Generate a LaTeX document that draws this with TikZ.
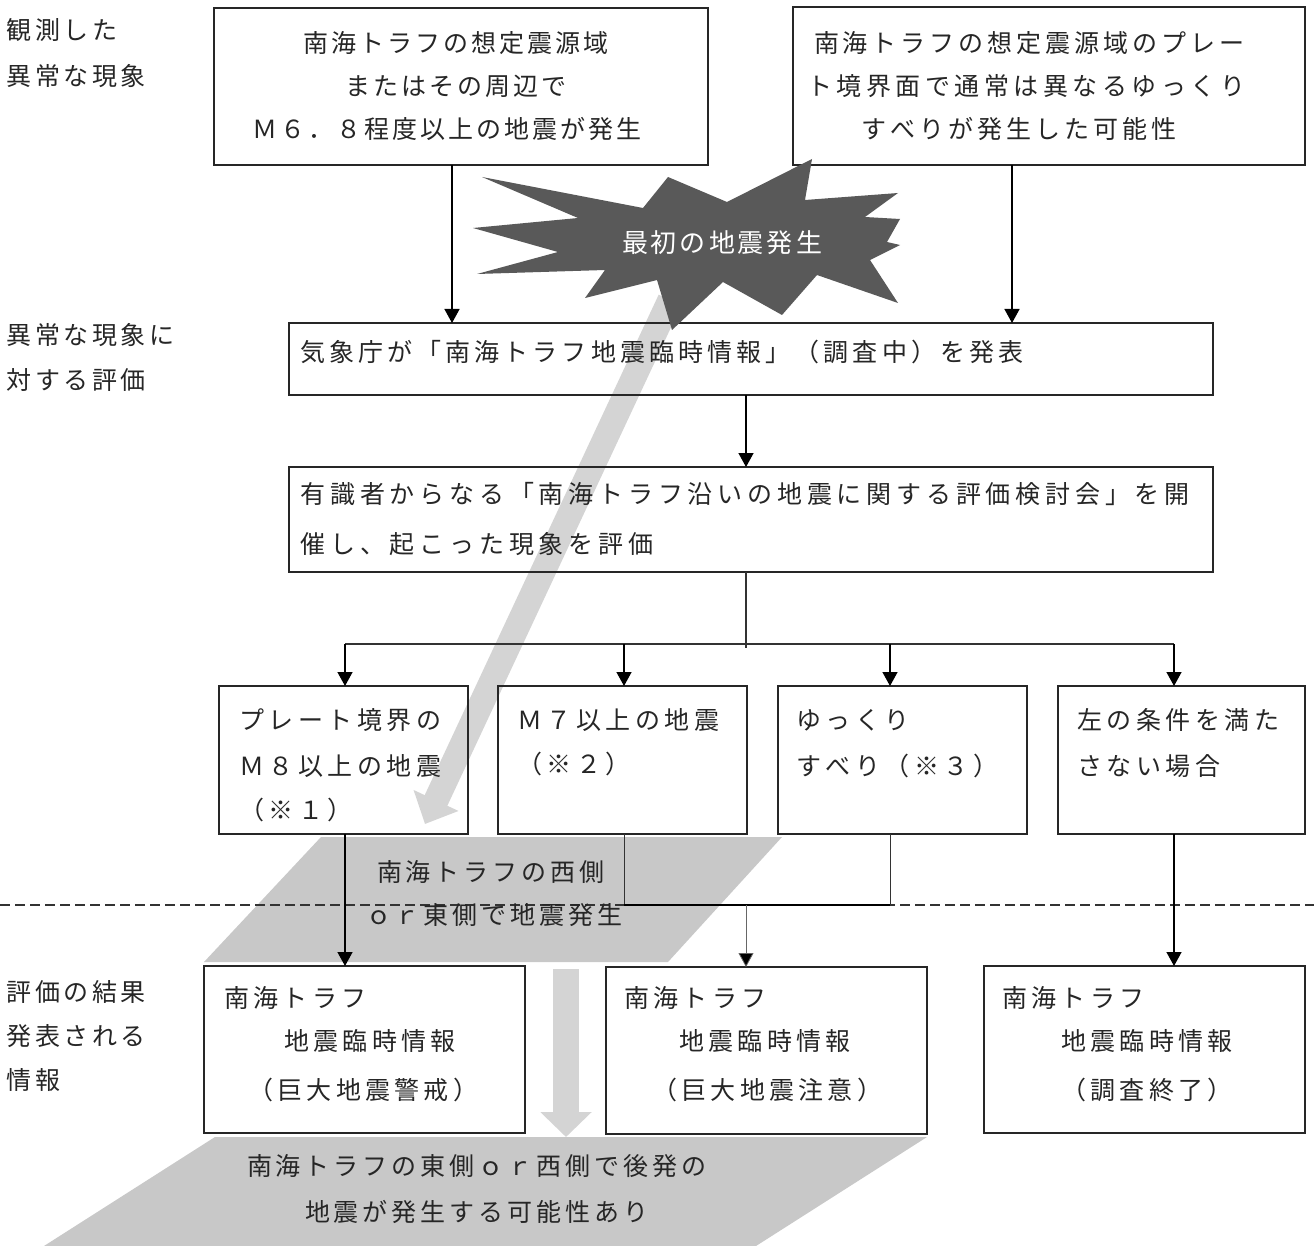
\documentclass[tikz,border=0pt]{standalone}
\usepackage{fontspec}
\setmainfont{Noto Sans CJK JP}
\usetikzlibrary{arrows.meta,calc}
\ExplSyntaxOn
\NewDocumentCommand\mono{mm}{\tl_map_inline:nn{#2}{\makebox[#1][c]{##1}}}
\ExplSyntaxOff
\definecolor{burstgray}{HTML}{595959}
\definecolor{arrowgray}{HTML}{D4D4D4}
\definecolor{paragray}{HTML}{C8C8C8}
\definecolor{linegray}{HTML}{333333}
\tikzset{
  bx/.style={draw=black!85, line width=1.3pt, inner sep=0pt, outer sep=0pt, anchor=north west},
  tx/.style={inner sep=0pt, outer sep=0pt, font=\fontsize{25}{28}\selectfont, text height=22pt, text depth=3pt, text=black!85},
  arr/.style={line width=1.4pt, draw=black, -{Triangle[width=15pt,length=14pt]}},
  thinarr/.style={line width=0.8pt, draw=black!60, -{Triangle[width=15pt,length=14pt,fill=black]}},
  ln/.style={line width=1.3pt, draw=linegray},
  bigarrow/.style={draw=arrowgray, line width=25pt},
}
\begin{document}
\begin{tikzpicture}[x=1pt,y=-1pt]
\useasboundingbox (0,0) rectangle (1314,1246);
\fill[white] (0,0) rectangle (1314,1246);

% big gray arrows and bands
\draw[bigarrow, -{Triangle[width=48pt,length=26pt]}] (670,300) -- (425,824);
\fill[paragray] (321,837) -- (782,837) -- (668,962) -- (204,962) -- cycle;
\fill[paragray] (215,1137) -- (927,1137) -- (756,1246) -- (44,1246) -- cycle;
\draw[draw=arrowgray, line width=26pt, -{Triangle[width=50pt,length=25pt]}] (566,969) -- (566,1137);

% dashed separator
\draw[line width=1.3pt, draw=black!80, dash pattern=on 10pt off 5pt] (0,905) -- (1314,905);

% left labels
\node[tx, anchor=west] (l1) at (5,30) {\mono{28.5pt}{観測した}};
\node[tx, anchor=west] (l2) at (5,76) {\mono{28.5pt}{異常な現象}};
\node[tx, anchor=west] (l3) at (5,335) {\mono{28.5pt}{異常な現象に}};
\node[tx, anchor=west] (l4) at (5,380) {\mono{28.5pt}{対する評価}};
\node[tx, anchor=west] (l5) at (5,992) {\mono{28.5pt}{評価の結果}};
\node[tx, anchor=west] (l6) at (5,1036) {\mono{28.5pt}{発表される}};
\node[tx, anchor=west] (l7) at (5,1080) {\mono{28.5pt}{情報}};

% boxes
\node[bx, minimum width=494pt, minimum height=157pt] (b1) at (214,8) {};
\node[bx, minimum width=512pt, minimum height=158pt] (b2) at (793,7) {};
\node[bx, minimum width=924pt, minimum height=72pt] (b3) at (289,323) {};
\node[bx, minimum width=924pt, minimum height=105pt] (b4) at (289,467) {};
\node[bx, minimum width=249pt, minimum height=148pt] (bA) at (219,686) {};
\node[bx, minimum width=249pt, minimum height=148pt] (bB) at (498,686) {};
\node[bx, minimum width=249pt, minimum height=148pt] (bC) at (778,686) {};
\node[bx, minimum width=247pt, minimum height=148pt] (bD) at (1058,686) {};
\node[bx, minimum width=321pt, minimum height=167pt] (bE) at (204,966) {};
\node[bx, minimum width=321pt, minimum height=167pt] (bF) at (606,967) {};
\node[bx, minimum width=321pt, minimum height=167pt] (bG) at (984,966) {};

% box texts
\node[tx] (t11) at (456,43) {\mono{28pt}{南海トラフの想定震源域}};
\node[tx] (t12) at (456,86) {\mono{28pt}{またはその周辺で}};
\node[tx, anchor=west] (t13) at (251,129) {\mono{28pt}{Ｍ６．８程度以上の地震が発生}};
\node[tx, anchor=west] (t21) at (812,43) {\mono{29pt}{南海トラフの想定震源域のプレー}};
\node[tx, anchor=west] (t22) at (805,86) {\mono{29.5pt}{ト境界面で通常は異なるゆっくり}};
\node[tx] (t23) at (1019,129) {\mono{29pt}{すべりが発生した可能性}};
\node[tx, anchor=west] (t3) at (298,352) {\mono{29.1pt}{気象庁が「南海トラフ地震臨時情報」（調査中）を発表}};
\node[tx, anchor=west] (t41) at (298,494) {\mono{29.8pt}{有識者からなる「南海トラフ沿いの地震に関する評価検討会」を開}};
\node[tx, anchor=west] (t42) at (298,544) {\mono{29.8pt}{催し、起こった現象を評価}};
\node[tx, anchor=west] (tA1) at (237,720) {\mono{29.5pt}{プレート境界の}};
\node[tx, anchor=west] (tA2) at (237,766) {\mono{29.5pt}{Ｍ８以上の地震}};
\node[tx, anchor=west] (tA3) at (237,810) {\mono{29.5pt}{（※１）}};
\node[tx, anchor=west] (tB1) at (515,720) {\mono{29.5pt}{Ｍ７以上の地震}};
\node[tx, anchor=west] (tB2) at (515,764) {\mono{29.5pt}{（※２）}};
\node[tx, anchor=west] (tC1) at (794,720) {\mono{29.5pt}{ゆっくり}};
\node[tx, anchor=west] (tC2) at (794,766) {\mono{29.5pt}{すべり（※３）}};
\node[tx, anchor=west] (tD1) at (1075,720) {\mono{29.5pt}{左の条件を満た}};
\node[tx, anchor=west] (tD2) at (1075,766) {\mono{29.5pt}{さない場合}};
\node[tx, anchor=west] (tP1) at (375,872) {\mono{29pt}{南海トラフの西側}};
\node[tx, anchor=west] (tP2) at (364,915) {\mono{29pt}{ｏｒ東側で地震発生}};
\node[tx, anchor=west] (tE1) at (222,998) {\mono{29.3pt}{南海トラフ}};
\node[tx, anchor=west] (tE2) at (282,1041) {\mono{29.3pt}{地震臨時情報}};
\node[tx, anchor=west] (tE3) at (246,1090) {\mono{29.3pt}{（巨大地震警戒）}};
\node[tx, anchor=west] (tF1) at (622,998) {\mono{29.3pt}{南海トラフ}};
\node[tx, anchor=west] (tF2) at (677,1041) {\mono{29.3pt}{地震臨時情報}};
\node[tx, anchor=west] (tF3) at (650,1090) {\mono{29.3pt}{（巨大地震注意）}};
\node[tx, anchor=west] (tG1) at (1000,998) {\mono{29.3pt}{南海トラフ}};
\node[tx, anchor=west] (tG2) at (1059,1041) {\mono{29.3pt}{地震臨時情報}};
\node[tx, anchor=west] (tG3) at (1059,1090) {\mono{29.3pt}{（調査終了）}};
\node[tx, anchor=west] (tQ1) at (245,1166) {\mono{29pt}{南海トラフの東側ｏｒ西側で後発の}};
\node[tx, anchor=west] (tQ2) at (303,1212) {\mono{29pt}{地震が発生する可能性あり}};

% connectors
\draw[arr] (b1.south -| 452,0) -- (b3.north -| 452,0);
\draw[arr] (b2.south -| 1012,0) -- (b3.north -| 1012,0);
\draw[arr] (b3.south -| 746,0) -- (b4.north -| 746,0);
\coordinate (hm) at (746,644);
\coordinate (hL) at (345,644);
\coordinate (hR) at (1174,644);
\draw[ln] (b4.south -| hm) -- ([yshift=-4pt]hm);
\draw[ln] (hL) -- (hR);
\draw[arr] (hL) -- (bA.north -| hL);
\draw[arr] (624,644) -- (bB.north -| 624,0);
\draw[arr] (890,644) -- (bC.north -| 890,0);
\draw[arr] (hR) -- (bD.north -| hR);
\coordinate (jB) at (624,905);
\coordinate (jC) at (890,905);
\draw[ln, line width=1pt] (bB.south -| jB) -- (jB);
\draw[ln, line width=1pt] (bC.south -| jC) -- (jC);
\draw[line width=2pt, draw=black] (jB) -- (jC);
\draw[thinarr] (746,905) -- (bF.north -| 746,0);
\draw[arr] (bA.south -| hL) -- (bE.north -| hL);
\draw[arr] (bD.south -| hR) -- (bG.north -| hR);

% starburst
\fill[burstgray] (482,177) -- (643,208) -- (668,177) -- (727,202) -- (812,159) -- (805,200)
  -- (898,193) -- (865,217) -- (900,219) -- (887,242) -- (900,245) -- (870,260)
  -- (898,303) -- (817,275) -- (782,315) -- (723,282) -- (672,330) -- (657,280)
  -- (585,298) -- (605,270) -- (477,274) -- (558,252) -- (473,228) -- (578,218) -- cycle;
\node[tx, text=white, font=\fontsize{26}{28}\selectfont] (burst) at (722,243) {\mono{29pt}{最初の地震発生}};
\end{tikzpicture}
\end{document}
